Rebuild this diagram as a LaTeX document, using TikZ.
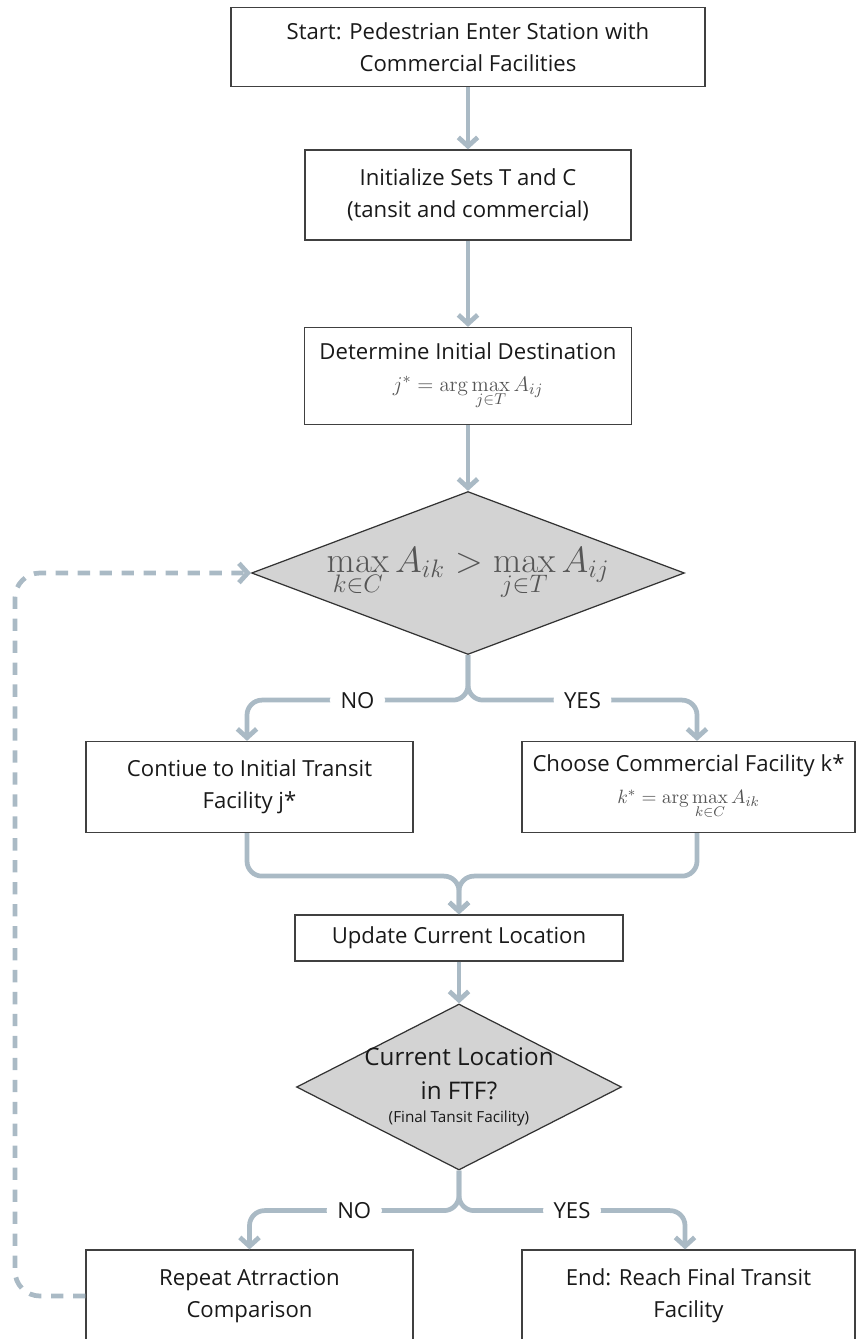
\documentclass[tikz,border=0pt]{standalone}
\usepackage[no-math]{fontspec}
\setmainfont{Open Sans}
\usetikzlibrary{shapes.geometric,arrows.meta}
\definecolor{flowline}{RGB}{170,186,197}
\definecolor{decfill}{RGB}{211,211,211}
\definecolor{mathgray}{RGB}{85,85,85}
\tikzset{
  box/.style={draw=black!75,line width=0.7pt,align=center,text=black!90,
    font=\fontsize{12.6}{18.2}\selectfont,inner sep=0pt},
  decision/.style={diamond,draw=black!80,line width=0.7pt,fill=decfill,inner sep=0pt},
  flow/.style={draw=flowline,line width=2.7pt,rounded corners=0.3cm,
    -{Straight Barb[length=5pt,width=11pt]}},
  answer/.style={fill=white,text=black!90,font=\fontsize{12.6}{14}\selectfont,inner xsep=6pt}
}
\begin{document}
\begin{tikzpicture}[x=0.02cm,y=-0.02cm]
\useasboundingbox (0,0) rectangle (856,1339);
\node[box,minimum width=9.48cm,minimum height=1.58cm] (start) at (468,47) {Start: Pedestrian Enter Station with\\Commercial Facilities};
\node[box,minimum width=6.52cm,minimum height=1.8cm] (init) at (468,195) {Initialize Sets T and C\\(tansit and commercial)};
\node[box,minimum width=6.54cm,minimum height=1.94cm] (det) at (468,376) {Determine Initial Destination\\[0pt]{\color{mathgray}\fontsize{12.2}{14}\selectfont$j^*=\arg\max\limits_{j\in T}A_{ij}$}};
\node[decision,minimum width=8.66cm,minimum height=3.26cm,
  label={[text=mathgray,font=\fontsize{19.4}{22}\selectfont]center:$\displaystyle\max_{k\in C}A_{ik}>\max_{j\in T}A_{ij}$}] (dec1) at (468,573) {};
\node[box,minimum width=6.54cm,minimum height=1.82cm] (lft) at (249.5,787) {Contiue to Initial Transit\\Facility j*};
\node[box,minimum width=6.66cm,minimum height=1.82cm] (rgt) at (688.5,787) {Choose Commercial Facility k*\\[0pt]{\color{mathgray}\fontsize{11.2}{12}\selectfont$k^*=\arg\max\limits_{k\in C}A_{ik}$}};
\node[box,minimum width=6.56cm,minimum height=0.92cm] (upd) at (459,938) {Update Current Location};
\node[decision,minimum width=6.5cm,minimum height=3.32cm,
  label={[align=center,text=black!90,font=\fontsize{13.8}{19}\selectfont]center:Current Location\\in FTF?\\[-6pt]{\fontsize{8.7}{10}\selectfont(Final Tansit Facility)}}] (dec2) at (459,1087) {};
\node[box,minimum width=6.54cm,minimum height=1.84cm] (rep) at (249.5,1296) {Repeat Atrraction\\Comparison};
\node[box,minimum width=6.66cm,minimum height=1.84cm] (fin) at (688.5,1296) {End: Reach Final Transit\\Facility};
% main line
\draw[flow] (start) -- (init);
\draw[flow] (init) -- (det);
\draw[flow] (det) -- (dec1);
\draw[flow] (dec1.south) -- ++(0,45) -| node[answer,pos=0.25] {NO} ([xshift=-2.5*0.02cm]lft.north);
\draw[flow] (dec1.south) -- ++(0,45) -| node[answer,pos=0.25] {YES} ([xshift=8.5*0.02cm]rgt.north);
\draw[flow] ([xshift=-2.5*0.02cm]lft.south) -- ++(0,43) -| (upd.north);
\draw[flow] ([xshift=8.5*0.02cm]rgt.south) -- ++(0,43) -| (upd.north);
\draw[flow] (upd) -- (dec2);
\draw[flow] (dec2.south) -- ++(0,40) -| node[answer,pos=0.25] {NO} (rep.north);
\draw[flow] (dec2.south) -- ++(0,40) -| node[answer,pos=0.25] {YES} ([xshift=-3.5*0.02cm]fin.north);
% loop back
\draw[flow,rounded corners=0.5cm,dash pattern=on 7pt off 5.5pt] (rep.west) -- (15,1296) -- (15,573) -- (dec1.west);
\end{tikzpicture}
\end{document}
